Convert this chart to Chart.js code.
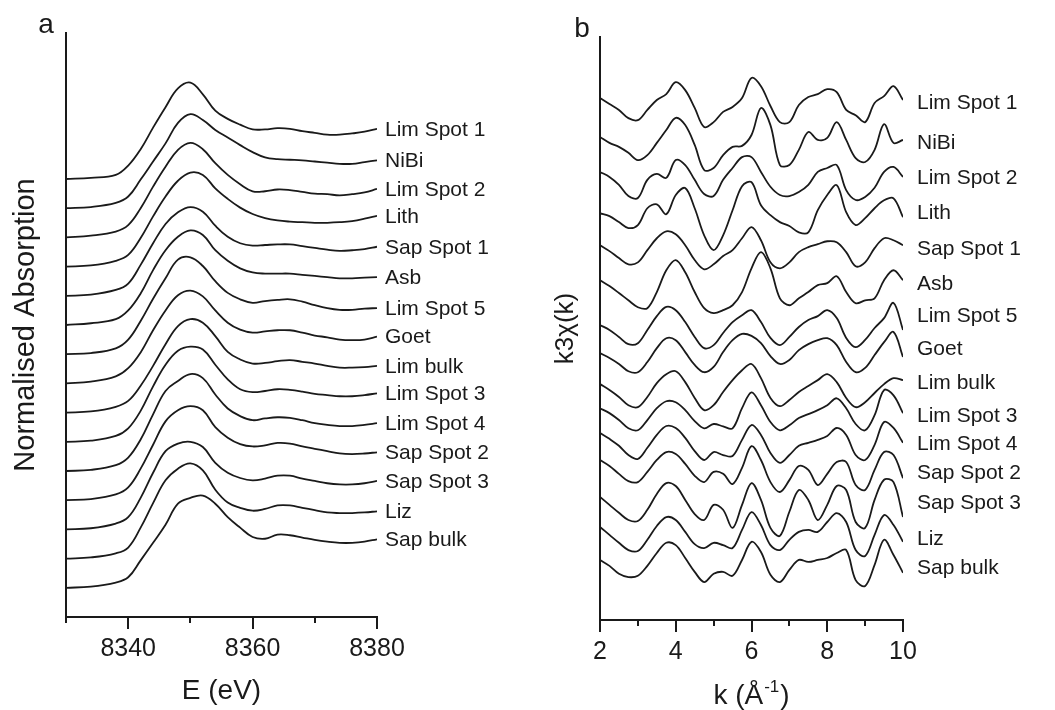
<!DOCTYPE html>
<html>
<head>
<meta charset="utf-8">
<script src="https://cdn.jsdelivr.net/npm/chart.js@4.4.1/dist/chart.umd.min.js"></script>
<style>
  html, body { margin: 0; padding: 0; background: #fff; }
  #wrap { position: relative; width: 1055px; height: 710px; overflow: hidden; }
  canvas { position: absolute; top: 0; }
  #chartA { left: 0; }
  #chartB { left: 527px; }
</style>
</head>
<body>
<div id="wrap">
  <canvas id="chartA" width="530" height="710"></canvas>
  <canvas id="chartB" width="528" height="710"></canvas>
</div>
<script>
// ---------- panel a : XANES ----------
const energy = [8330, 8334, 8338, 8340, 8342, 8344, 8346, 8348, 8350, 8352, 8354, 8356,
                8358, 8360, 8362, 8364, 8366, 8368, 8370, 8372, 8374, 8376, 8378, 8380];
const namesA = ['Lim Spot 1', 'NiBi', 'Lim Spot 2', 'Lith', 'Sap Spot 1', 'Asb', 'Lim Spot 5', 'Goet',
                'Lim bulk', 'Lim Spot 3', 'Lim Spot 4', 'Sap Spot 2', 'Sap Spot 3', 'Liz', 'Sap bulk'];
// vertical stacking of the normalised spectra
const offsetsA = [7.5, 7.0, 6.5, 6.0, 5.5, 5.0, 4.5, 4.0, 3.5, 3.0, 2.5, 2.0, 1.5, 1.0, 0.5];

const xLimSpot1 = [0, 0.02, 0.07, 0.23, 0.51, 0.88, 1.23, 1.55, 1.65, 1.45, 1.17, 1.03, 0.93, 0.85, 0.85, 0.87, 0.86, 0.82, 0.79, 0.76, 0.76, 0.78, 0.81, 0.86];
const xNiBi     = [0, 0.02, 0.09, 0.20, 0.49, 0.80, 1.11, 1.46, 1.61, 1.51, 1.34, 1.21, 1.08, 0.96, 0.87, 0.84, 0.83, 0.82, 0.80, 0.78, 0.76, 0.76, 0.79, 0.82];
const xLimSpot2 = [0, 0.03, 0.10, 0.21, 0.50, 0.87, 1.21, 1.50, 1.62, 1.51, 1.27, 1.07, 0.91, 0.79, 0.79, 0.82, 0.81, 0.78, 0.75, 0.74, 0.72, 0.74, 0.77, 0.83];
const xLith     = [0, 0.02, 0.10, 0.20, 0.49, 0.86, 1.20, 1.47, 1.61, 1.57, 1.34, 1.16, 1.01, 0.90, 0.83, 0.79, 0.77, 0.76, 0.75, 0.75, 0.76, 0.78, 0.82, 0.87];
const xSapSpot1 = [0, 0.02, 0.10, 0.21, 0.53, 0.90, 1.23, 1.43, 1.52, 1.44, 1.20, 1.01, 0.90, 0.86, 0.87, 0.88, 0.88, 0.85, 0.82, 0.79, 0.77, 0.78, 0.80, 0.84];
const xAsb      = [0, 0.03, 0.10, 0.25, 0.54, 0.94, 1.28, 1.51, 1.62, 1.54, 1.28, 1.10, 0.97, 0.90, 0.88, 0.88, 0.88, 0.86, 0.84, 0.82, 0.80, 0.80, 0.81, 0.82];
const xLimSpot5 = [0, 0.02, 0.10, 0.25, 0.57, 0.95, 1.30, 1.62, 1.66, 1.51, 1.25, 1.05, 0.94, 0.88, 0.91, 0.93, 0.94, 0.90, 0.84, 0.79, 0.76, 0.76, 0.78, 0.79];
const xGoet     = [0, 0.03, 0.12, 0.26, 0.53, 0.91, 1.25, 1.51, 1.59, 1.49, 1.25, 1.04, 0.92, 0.87, 0.89, 0.91, 0.91, 0.87, 0.82, 0.79, 0.75, 0.74, 0.75, 0.80];
const xLimBulk  = [0, 0.02, 0.10, 0.20, 0.46, 0.80, 1.17, 1.48, 1.60, 1.54, 1.31, 1.04, 0.91, 0.84, 0.85, 0.88, 0.90, 0.87, 0.84, 0.80, 0.77, 0.77, 0.78, 0.80];
const xLimSpot3 = [0, 0.02, 0.10, 0.23, 0.53, 0.95, 1.32, 1.56, 1.63, 1.58, 1.32, 1.07, 0.90, 0.85, 0.87, 0.90, 0.89, 0.86, 0.82, 0.80, 0.78, 0.78, 0.80, 0.83];
const xLimSpot4 = [0, 0.02, 0.10, 0.23, 0.54, 0.97, 1.37, 1.54, 1.66, 1.59, 1.31, 1.07, 0.94, 0.87, 0.90, 0.92, 0.91, 0.87, 0.82, 0.79, 0.77, 0.77, 0.79, 0.82];
const xSapSpot2 = [0, 0.02, 0.10, 0.22, 0.54, 0.95, 1.35, 1.54, 1.61, 1.54, 1.25, 1.07, 0.96, 0.92, 0.94, 0.98, 0.97, 0.92, 0.88, 0.84, 0.80, 0.79, 0.80, 0.82];
const xSapSpot3 = [0, 0.02, 0.10, 0.21, 0.54, 0.97, 1.34, 1.47, 1.50, 1.41, 1.14, 0.97, 0.88, 0.84, 0.87, 0.92, 0.92, 0.87, 0.83, 0.79, 0.77, 0.77, 0.79, 0.83];
const xLiz      = [0, 0.02, 0.09, 0.19, 0.53, 0.95, 1.34, 1.54, 1.63, 1.51, 1.18, 0.96, 0.87, 0.82, 0.85, 0.91, 0.91, 0.87, 0.83, 0.79, 0.78, 0.78, 0.79, 0.81];
const xSapBulk  = [0, 0.02, 0.09, 0.18, 0.47, 0.77, 1.08, 1.44, 1.54, 1.58, 1.44, 1.21, 1.03, 0.87, 0.84, 0.91, 0.90, 0.86, 0.82, 0.79, 0.77, 0.77, 0.79, 0.83];

const seriesA = [xLimSpot1, xNiBi, xLimSpot2, xLith, xSapSpot1, xAsb, xLimSpot5, xGoet,
                 xLimBulk, xLimSpot3, xLimSpot4, xSapSpot2, xSapSpot3, xLiz, xSapBulk];
const ticksA = [8340, 8360, 8380];
const minorA = [8330, 8350, 8370];

// ---------- panel b : EXAFS ----------
const kValues = [2, 2.25, 2.5, 2.75, 3, 3.25, 3.5, 3.75, 4, 4.25, 4.5, 4.75, 5, 5.25, 5.5, 5.75,
                 6, 6.25, 6.5, 6.75, 7, 7.25, 7.5, 7.75, 8, 8.25, 8.5, 8.75, 9, 9.25, 9.5, 9.75, 10];
const namesB = namesA;
const offsetsB = [15.82, 14.64, 13.58, 12.33, 11.36, 10.30, 8.94, 8.09, 7.15, 6.42, 5.67, 4.85, 3.73, 2.82, 1.82];
const labelYB  = [15.70, 14.48, 13.42, 12.36, 11.27, 10.21, 9.24, 8.24, 7.21, 6.21, 5.36, 4.48, 3.58, 2.48, 1.61];

const kLimSpot1 = [0, -0.18, -0.36, -0.61, -0.67, -0.36, -0.06, 0.12, 0.48, 0.24, -0.30, -0.88, -0.73, -0.42, -0.27, 0.00, 0.61, 0.36, -0.24, -0.73, -0.73, -0.21, 0.03, 0.12, 0.27, 0.18, -0.36, -0.52, -0.73, -0.15, 0.06, 0.36, -0.06];
const kNiBi     = [0, -0.18, -0.30, -0.48, -0.70, -0.55, -0.18, 0.21, 0.58, 0.36, -0.24, -1.00, -0.94, -0.55, -0.30, -0.27, 0.06, 0.88, 0.36, -0.85, -0.85, -0.39, 0.15, -0.09, -0.03, 0.45, -0.09, -0.64, -0.76, -0.39, 0.39, -0.18, -0.09];
const kLimSpot2 = [0, -0.15, -0.39, -0.73, -0.79, -0.24, -0.06, -0.18, 0.36, 0.21, -0.24, -0.67, -0.73, -0.24, 0.12, 0.45, 0.45, 0.00, -0.45, -0.70, -0.73, -0.61, -0.39, 0.00, 0.12, 0.21, -0.55, -0.85, -0.76, -0.48, 0.00, 0.15, -0.15];
const kLith     = [0, -0.09, -0.27, -0.45, -0.36, 0.15, 0.27, -0.03, 0.55, 0.76, 0.15, -0.67, -1.12, -0.67, 0.09, 0.82, 0.94, 0.24, -0.06, -0.27, -0.39, -0.58, -0.58, 0.09, 0.55, 0.85, 0.03, -0.36, -0.15, 0.15, 0.39, 0.45, -0.12];
const kSapSpot1 = [0, -0.18, -0.39, -0.58, -0.52, -0.15, 0.21, 0.42, 0.33, 0.00, -0.45, -0.73, -0.58, -0.33, -0.15, 0.21, 0.55, 0.15, -0.52, -0.70, -0.52, -0.21, -0.06, 0.03, 0.12, 0.09, -0.21, -0.64, -0.52, -0.09, 0.21, 0.15, 0.00];
const kAsb      = [0, -0.18, -0.39, -0.61, -0.82, -0.85, -0.36, 0.30, 0.61, 0.24, -0.36, -0.85, -1.00, -0.91, -0.76, -0.36, 0.36, 0.85, 0.36, -0.55, -0.76, -0.55, -0.36, -0.15, -0.09, 0.12, -0.36, -0.70, -0.61, -0.55, 0.00, 0.30, 0.00];
const kLimSpot5 = [0, -0.15, -0.36, -0.58, -0.55, -0.15, 0.27, 0.55, 0.45, 0.09, -0.36, -0.70, -0.61, -0.24, 0.09, 0.30, 0.45, 0.09, -0.39, -0.61, -0.36, -0.06, 0.15, 0.27, 0.45, 0.21, -0.39, -0.67, -0.45, -0.09, 0.21, 0.67, -0.15];
const kGoet     = [0, -0.15, -0.33, -0.55, -0.58, -0.27, 0.15, 0.45, 0.39, 0.03, -0.36, -0.58, -0.42, 0.03, 0.39, 0.58, 0.52, 0.30, -0.09, -0.33, -0.21, 0.09, 0.27, 0.39, 0.45, 0.24, -0.27, -0.58, -0.45, -0.06, 0.33, 0.64, -0.12];
const kLimBulk  = [0, -0.18, -0.39, -0.64, -0.70, -0.39, 0.03, 0.30, 0.39, 0.06, -0.42, -0.79, -0.64, -0.24, 0.12, 0.42, 0.61, 0.18, -0.42, -0.67, -0.48, -0.24, -0.06, 0.12, 0.30, 0.06, -0.42, -0.70, -0.55, -0.27, 0.00, 0.18, 0.12];
const kLimSpot3 = [0, -0.15, -0.36, -0.61, -0.67, -0.36, 0.00, 0.21, 0.18, -0.06, -0.39, -0.61, -0.48, -0.55, -0.61, 0.00, 0.48, 0.09, -0.42, -0.67, -0.52, -0.30, -0.18, -0.06, 0.09, 0.30, 0.00, -0.48, -0.67, -0.21, 0.55, 0.39, -0.15];
const kLimSpot4 = [0, -0.18, -0.39, -0.67, -0.79, -0.45, -0.06, 0.21, 0.15, -0.15, -0.55, -0.82, -0.58, -0.67, -0.70, -0.21, 0.24, -0.06, -0.61, -0.91, -0.67, -0.39, -0.30, -0.21, -0.09, 0.15, -0.06, -0.67, -0.82, -0.36, 0.33, 0.15, -0.30];
const kSapSpot2 = [0, -0.18, -0.42, -0.64, -0.67, -0.36, 0.00, 0.24, 0.18, -0.12, -0.48, -0.67, -0.36, -0.42, -0.73, -0.24, 0.42, 0.00, -0.67, -0.97, -0.61, -0.18, -0.30, -0.76, -0.42, -0.06, -0.06, -0.76, -0.91, -0.30, 0.24, 0.15, -0.55];
const kSapSpot3 = [0, -0.24, -0.48, -0.70, -0.73, -0.39, 0.09, 0.42, 0.33, -0.09, -0.52, -0.70, -0.24, -0.39, -0.94, -0.24, 0.42, -0.09, -0.94, -1.18, -0.45, 0.21, -0.09, -0.70, -0.24, 0.33, 0.21, -0.76, -0.94, -0.09, 0.52, 0.45, -0.61];
const kLiz      = [0, -0.24, -0.48, -0.70, -0.73, -0.39, 0.03, 0.30, 0.21, -0.15, -0.52, -0.64, -0.48, -0.55, -0.64, -0.09, 0.45, 0.06, -0.55, -0.70, -0.39, -0.15, -0.09, -0.15, 0.15, 0.42, 0.15, -0.70, -0.88, -0.24, 0.36, 0.06, -0.45];
const kSapBulk  = [0, -0.18, -0.42, -0.52, -0.48, -0.18, 0.21, 0.52, 0.45, 0.06, -0.36, -0.67, -0.42, -0.36, -0.48, 0.00, 0.55, 0.24, -0.45, -0.67, -0.30, 0.00, -0.06, 0.00, 0.06, 0.21, 0.30, -0.61, -0.79, -0.15, 0.61, 0.15, -0.39];

const seriesB = [kLimSpot1, kNiBi, kLimSpot2, kLith, kSapSpot1, kAsb, kLimSpot5, kGoet,
                 kLimBulk, kLimSpot3, kLimSpot4, kSapSpot2, kSapSpot3, kLiz, kSapBulk];
const ticksB = [2, 4, 6, 8, 10];
const minorB = [3, 5, 7, 9];

// ---------- drawing ----------
const FONT = '"Liberation Sans", Arial, sans-serif';
const INK = '#1a1a1a';
Chart.defaults.font.family = FONT;
Chart.defaults.color = INK;

// tick marks, curve names, panel letter and (for b) the x title with superscript
const decor = {
  id: 'decor',
  afterDraw(chart, args, o) {
    const { ctx, chartArea: area, scales: { x, y } } = chart;
    ctx.save();
    ctx.strokeStyle = INK;
    ctx.lineWidth = 2;
    const tick = (v, len) => {
      const px = Math.round(x.getPixelForValue(v));
      ctx.beginPath();
      ctx.moveTo(px, area.bottom);
      ctx.lineTo(px, area.bottom + len);
      ctx.stroke();
    };
    o.major.forEach(v => tick(v, 12));
    o.minor.forEach(v => tick(v, 6));

    ctx.fillStyle = INK;
    ctx.font = '21px ' + FONT;
    ctx.textAlign = 'left';
    ctx.textBaseline = 'middle';
    o.names.forEach((t, i) => ctx.fillText(t, area.right + o.gap, y.getPixelForValue(o.labelY[i]) + 1));

    ctx.font = '28px ' + FONT;
    ctx.textAlign = 'center';
    ctx.textBaseline = 'alphabetic';
    ctx.fillText(o.letter, area.left - o.letterDx, area.top);

    if (o.kTitle) {
      const cx = (area.left + area.right) / 2, cy = 704;
      ctx.textAlign = 'left';
      ctx.font = '28px ' + FONT;
      const a = 'k (Å', c = ')';
      const wa = ctx.measureText(a).width, wc = ctx.measureText(c).width;
      ctx.font = '17px ' + FONT;
      const wb = ctx.measureText('-1').width + 2;
      let sx = cx - (wa + wb + wc) / 2;
      ctx.font = '28px ' + FONT;
      ctx.fillText(a, sx, cy);
      ctx.font = '17px ' + FONT;
      ctx.fillText('-1', sx + wa + 1, cy - 12);
      ctx.font = '28px ' + FONT;
      ctx.fillText(c, sx + wa + wb, cy);
    }
    ctx.restore();
  }
};

function makeChart(id, xs, series, offsets, cfg) {
  const datasets = series.map((vals, i) => ({
    label: cfg.names[i],
    data: xs.map((xv, j) => ({ x: xv, y: vals[j] + offsets[i] })),
    borderColor: INK,
    borderWidth: 1.8,
    pointRadius: 0,
    fill: false,
    tension: cfg.tension
  }));
  return new Chart(document.getElementById(id), {
    type: 'line',
    data: { datasets },
    options: {
      responsive: false,
      animation: false,
      events: [],
      layout: { padding: cfg.padding },
      plugins: {
        legend: { display: false },
        tooltip: { enabled: false },
        decor: cfg.decor
      },
      scales: {
        x: {
          type: 'linear',
          min: cfg.xmin, max: cfg.xmax,
          afterFit: s => { s.height = cfg.xHeight; },
          afterBuildTicks: s => { s.ticks = cfg.major.map(v => ({ value: v })); },
          ticks: { font: { size: 25 }, color: INK, padding: 5, maxRotation: 0, autoSkip: false,
                   callback: v => String(v) },
          grid: { display: false, drawTicks: true, tickLength: 12 },
          border: { display: true, color: INK, width: 2 },
          title: cfg.xTitle
        },
        y: {
          min: 0, max: cfg.ymax,
          afterFit: s => { s.width = cfg.yWidth; },
          ticks: { display: false },
          grid: { display: false, drawTicks: false },
          border: { display: true, color: INK, width: 2 },
          title: cfg.yTitle
        }
      }
    },
    plugins: [decor]
  });
}

makeChart('chartA', energy, seriesA, offsetsA, {
  names: namesA,
  xmin: 8330, xmax: 8380, ymax: 10, tension: 0.4,
  major: ticksA,
  padding: { left: 0, top: 33, right: 153, bottom: 0 },
  xHeight: 93, yWidth: 66,
  xTitle: { display: true, text: 'E (eV)', font: { size: 28 }, color: INK, padding: { top: 0, bottom: 2 } },
  yTitle: { display: true, text: 'Normalised Absorption', font: { size: 29 }, color: INK, padding: { top: 9, bottom: 0 } },
  decor: {
    major: ticksA, minor: minorA, names: namesA, gap: 8,
    labelY: seriesA.map((v, i) => v[v.length - 1] + offsetsA[i]),
    letter: 'a', letterDx: 20, kTitle: false
  }
});

makeChart('chartB', kValues, seriesB, offsetsB, {
  names: namesB,
  xmin: 2, xmax: 10, ymax: 17.67, tension: 0.35,
  major: ticksB,
  padding: { left: 0, top: 37, right: 152, bottom: 0 },
  xHeight: 90, yWidth: 73,
  xTitle: { display: false },
  yTitle: { display: true, text: 'k3χ(k)', font: { size: 26 }, color: INK, padding: { top: 23, bottom: 0 } },
  decor: {
    major: ticksB, minor: minorB, names: namesB, gap: 14,
    labelY: labelYB,
    letter: 'b', letterDx: 18, kTitle: true
  }
});
</script>
</body>
</html>
